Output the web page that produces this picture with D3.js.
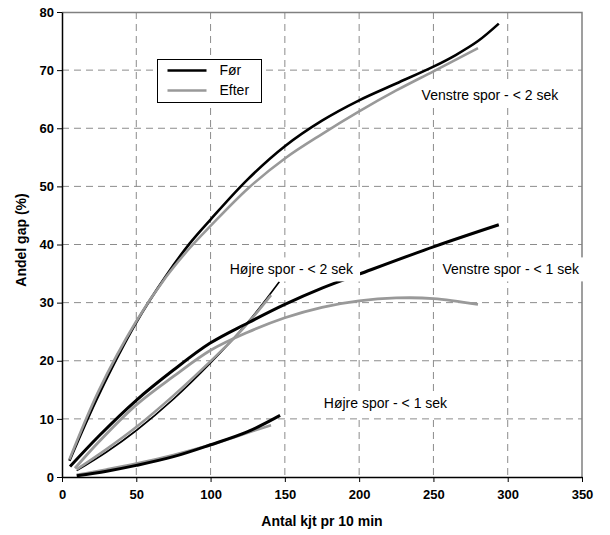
<!DOCTYPE html>
<html>
<head>
<meta charset="utf-8">
<script src="https://cdn.jsdelivr.net/npm/d3@7"></script>
<style>
  body { margin: 0; background: #fff; }
  svg { font-family: "Liberation Sans", Arial, sans-serif; }
</style>
</head>
<body>
<svg id="chart"></svg>
<script>
// values: [antal kjt pr 10 min, andel gap %]
const venstre2Foer = [[5, 2.8], [25, 14.3], [50, 26.6], [70, 34.6], [86, 40.2], [100, 44.3], [125, 51.2], [150, 56.9], [175, 61.3], [200, 64.8], [225, 67.7], [250, 70.6], [265, 72.6], [280, 75.0], [294, 78]];
const venstre2Efter = [[5, 3.0], [25, 15], [50, 26.8], [70, 34.4], [86, 39.4], [100, 43.2], [125, 49.6], [150, 54.8], [175, 59.0], [200, 62.9], [225, 66.5], [250, 69.8], [280, 73.8]];
const venstre1Foer = [[5.4, 1.8], [25, 7.1], [50, 13.2], [75, 18.4], [99.5, 23], [125, 26.5], [150, 29.7], [175, 32.5], [200, 34.9], [250, 39.6], [294, 43.4]];
const venstre1Efter = [[8.7, 1.5], [25, 6.1], [50, 12.4], [75, 17.3], [100, 21.8], [125, 24.9], [150, 27.4], [175, 29.2], [200, 30.3], [225, 30.8], [250, 30.7], [280, 29.7]];
const hoejre2Foer = [[9.9, 1.1], [30, 4.3], [50, 8], [75, 13.4], [99.5, 19.5], [125, 26.6], [146.3, 33.6]];
const hoejre2Efter = [[9.9, 1.3], [30, 4.8], [50, 8.6], [75, 14], [99.5, 19.8], [120, 25], [140.7, 31.3]];
const hoejre1Foer = [[9.9, 0.2], [30, 1.0], [50, 2], [75, 3.5], [99.5, 5.5], [125, 7.8], [146.8, 10.6]];
const hoejre1Efter = [[9.9, 0.4], [30, 1.3], [50, 2.3], [75, 3.8], [99.5, 5.5], [120, 7.2], [140.7, 8.9]];

const xTicks = [0, 50, 100, 150, 200, 250, 300, 350];
const yTicks = [0, 10, 20, 30, 40, 50, 60, 70, 80];
const legendLabels = ["Før", "Efter"];
const seriesLabels = [
  {text: "Venstre spor - < 2 sek", x: 288, y: 65.7},
  {text: "Højre spor - < 2 sek", x: 154.4, y: 35.7},
  {text: "Venstre spor - < 1 sek", x: 302, y: 35.7},
  {text: "Højre spor - < 1 sek", x: 217.7, y: 12.7}
];

const width = 610, height = 535;
const margin = {top: 12, right: 28, bottom: 58, left: 62};
const innerW = width - margin.left - margin.right;
const innerH = height - margin.top - margin.bottom;

const black = "#000000", grey = "#999999";

const svg = d3.select("#chart").attr("width", width).attr("height", height);
const chart = svg.append("g").attr("transform", `translate(${margin.left},${margin.top})`);

const x = d3.scaleLinear().domain([0, 350]).range([0, innerW]);
const y = d3.scaleLinear().domain([0, 80]).range([innerH, 0]);

// grid
chart.append("g").selectAll("line")
  .data(xTicks.filter(d => d > 0 && d < 350))
  .join("line")
    .attr("x1", d => x(d)).attr("x2", d => x(d))
    .attr("y1", 0).attr("y2", innerH)
    .attr("stroke", "#8c8c8c").attr("stroke-dasharray", "7,5");
chart.append("g").selectAll("line")
  .data(yTicks.filter(d => d > 0 && d < 80))
  .join("line")
    .attr("x1", 0).attr("x2", innerW)
    .attr("y1", d => y(d)).attr("y2", d => y(d))
    .attr("stroke", "#8c8c8c").attr("stroke-dasharray", "7,5");

// plot border top/right
chart.append("path")
  .attr("d", `M0,0.5H${innerW}V${innerH}`)
  .attr("fill", "none").attr("stroke", "#808080").attr("stroke-width", 1.5);

// curves
const line = d3.line().x(d => x(d[0])).y(d => y(d[1])).curve(d3.curveCatmullRom.alpha(0.5));
const curves = [
  {data: hoejre1Efter, color: grey, w: 2.6},
  {data: hoejre1Foer, color: black, w: 3},
  {data: hoejre2Foer, color: black, w: 1.6},
  {data: hoejre2Efter, color: grey, w: 2.6},
  {data: venstre1Efter, color: grey, w: 2.8},
  {data: venstre1Foer, color: black, w: 3},
  {data: venstre2Foer, color: black, w: 2.6},
  {data: venstre2Efter, color: grey, w: 2.6}
];
chart.append("g").selectAll("path")
  .data(curves)
  .join("path")
    .attr("d", d => line(d.data))
    .attr("fill", "none")
    .attr("stroke", d => d.color)
    .attr("stroke-width", d => d.w)
    .attr("stroke-linecap", "butt");

// series labels with white boxes
const lab = chart.append("g").selectAll("g")
  .data(seriesLabels)
  .join("g")
    .attr("transform", d => `translate(${x(d.x)},${y(d.y)})`);
lab.append("text")
  .attr("text-anchor", "middle")
  .attr("dy", "0.35em")
  .attr("font-size", 14)
  .attr("fill", "#000")
  .text(d => d.text);
lab.each(function() {
  const g = d3.select(this);
  const bb = g.select("text").node().getBBox();
  g.insert("rect", "text")
    .attr("x", bb.x - 6).attr("y", bb.y - 4)
    .attr("width", bb.width + 12).attr("height", bb.height + 8)
    .attr("fill", "#fff");
});

// axes
const xAxis = chart.append("g")
  .attr("transform", `translate(0,${innerH})`)
  .call(d3.axisBottom(x).tickValues(xTicks).tickSize(5).tickSizeOuter(0));
const yAxis = chart.append("g")
  .call(d3.axisLeft(y).tickValues(yTicks).tickSize(5).tickSizeOuter(0));
[xAxis, yAxis].forEach(a => {
  a.select(".domain").attr("stroke", "#000").attr("stroke-width", 1.5);
  a.selectAll(".tick line").attr("stroke", "#000");
  a.selectAll(".tick text")
    .attr("font-family", "Liberation Sans, Arial, sans-serif")
    .attr("font-size", 13).attr("font-weight", "bold").attr("fill", "#000");
});
xAxis.selectAll(".tick text").attr("dy", "1.1em");

// axis titles
svg.append("text")
  .attr("x", margin.left + innerW / 2).attr("y", 526)
  .attr("text-anchor", "middle")
  .attr("font-size", 14).attr("font-weight", "bold")
  .text("Antal kjt pr 10 min");
svg.append("text")
  .attr("transform", `translate(26,240) rotate(-90)`)
  .attr("text-anchor", "middle")
  .attr("font-size", 14).attr("font-weight", "bold")
  .text("Andel gap (%)");

// legend
const legend = svg.append("g").attr("transform", "translate(157.5,59.5)");
legend.append("rect")
  .attr("width", 104).attr("height", 43)
  .attr("fill", "#fff").attr("stroke", "#000").attr("stroke-width", 1);
const legendItem = legend.selectAll("g.item")
  .data(legendLabels)
  .join("g")
    .attr("class", "item")
    .attr("transform", (d, i) => `translate(0,${11 + i * 20})`);
legendItem.append("line")
  .attr("x1", 10).attr("x2", 49)
  .attr("stroke", (d, i) => i === 0 ? black : grey)
  .attr("stroke-width", 2.6);
legendItem.append("text")
  .attr("x", 62).attr("dy", "0.35em")
  .attr("font-size", 14)
  .text(d => d);
</script>
</body>
</html>
